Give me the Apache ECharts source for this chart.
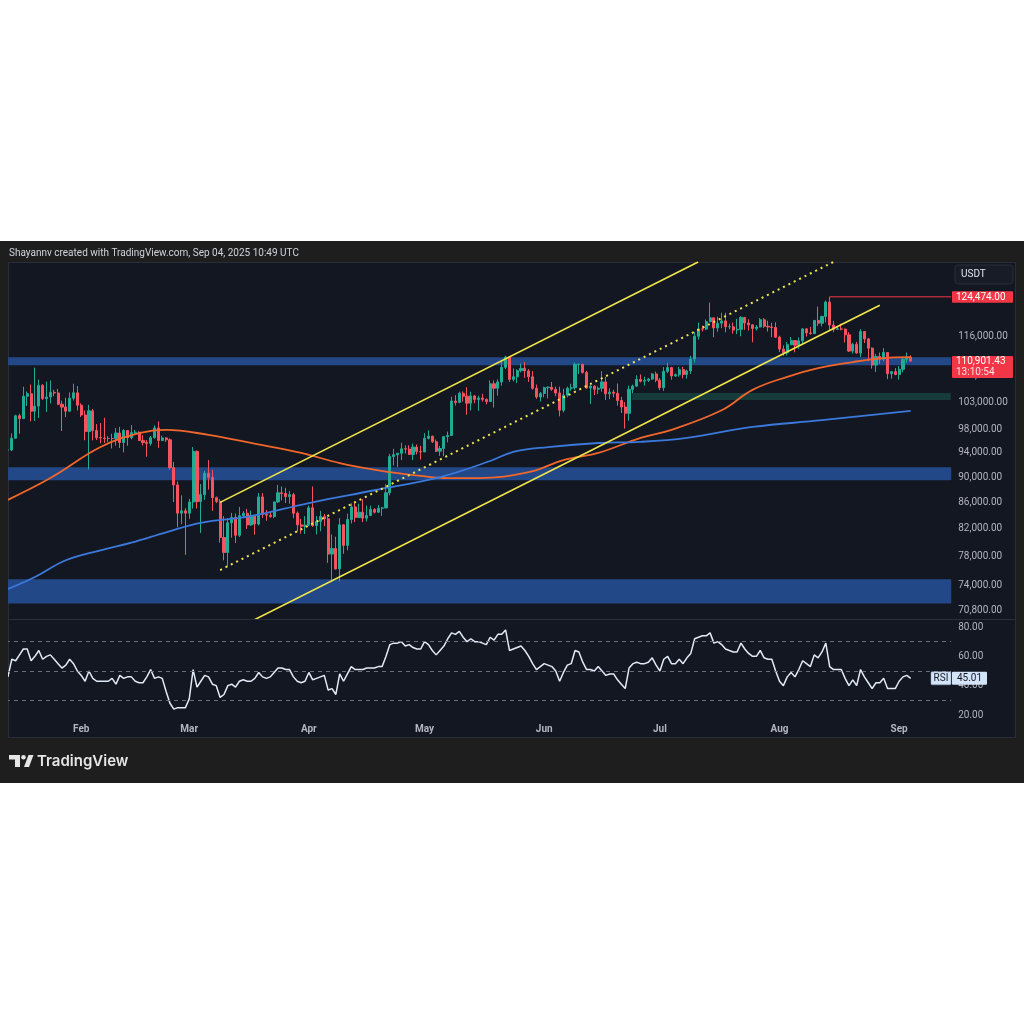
<!DOCTYPE html>
<html>
<head>
<meta charset="utf-8">
<title>BTC/USDT daily</title>
<script src="https://cdn.jsdelivr.net/npm/echarts@6/dist/echarts.min.js"></script>
<style>
  html, body { margin: 0; padding: 0; background: #fff; }
  #chart { width: 1024px; height: 1024px; }
</style>
</head>
<body>
<div id="chart"></div>
<script>
// Daily candles, in thousands of USDT: [open, close, low, high]
const candlesJan = [
  [94.50, 94.50, 89.25, 95.90], [94.50, 96.53, 94.30, 97.37], [96.53, 100.50, 96.45, 100.68],
  [100.50, 99.99, 97.30, 100.88], [99.99, 104.08, 99.95, 105.90], [104.08, 104.56, 102.30, 104.99],
  [104.56, 101.33, 99.50, 106.32], [101.33, 102.26, 99.55, 109.59], [102.26, 106.14, 100.10, 107.25],
  [106.14, 103.65, 103.40, 106.39], [103.65, 103.96, 101.20, 106.85], [103.96, 104.82, 102.75, 107.10],
  [104.82, 104.71, 104.10, 105.30], [104.71, 102.59, 102.47, 105.47], [102.59, 102.08, 97.78, 103.25],
  [102.08, 101.33, 100.27, 103.80], [101.33, 103.73, 101.28, 104.80], [103.73, 104.74, 103.30, 106.46],
  [104.74, 102.43, 101.46, 106.01]
];
const candlesFeb = [
  [102.43, 100.64, 100.28, 102.77], [100.64, 97.69, 96.16, 101.46], [97.69, 101.40, 91.23, 102.50],
  [101.40, 97.87, 96.15, 101.75], [97.87, 96.62, 96.20, 99.00], [96.62, 96.55, 95.65, 99.20],
  [96.55, 96.48, 95.70, 100.14], [96.48, 96.47, 95.90, 96.88], [96.47, 96.46, 94.75, 97.30],
  [96.46, 97.43, 95.25, 98.30], [97.43, 95.78, 94.85, 98.50], [95.78, 97.87, 94.10, 98.10],
  [97.87, 96.61, 95.23, 97.55], [96.61, 97.50, 96.32, 98.83], [97.50, 97.57, 97.20, 97.97],
  [97.57, 96.12, 96.05, 97.73], [96.12, 95.78, 95.26, 97.05], [95.78, 95.63, 93.35, 96.20],
  [95.63, 96.62, 95.25, 96.90], [96.62, 98.33, 96.45, 98.77], [98.33, 96.13, 94.87, 99.50],
  [96.13, 96.58, 96.02, 96.95], [96.58, 96.25, 95.87, 96.70], [96.25, 91.55, 91.22, 96.50],
  [91.55, 88.74, 86.05, 92.50], [88.74, 84.35, 82.25, 89.30], [84.35, 84.71, 82.70, 87.10],
  [84.71, 84.35, 78.26, 85.10]
];
const candlesMar = [
  [84.35, 86.06, 83.50, 86.56], [86.06, 94.27, 85.05, 95.00], [94.27, 86.12, 85.05, 94.40],
  [86.12, 87.22, 81.40, 88.90], [87.22, 90.62, 86.40, 91.00], [90.62, 89.96, 88.00, 92.80],
  [89.96, 86.74, 84.70, 91.20], [86.74, 86.15, 85.90, 86.90], [86.15, 80.73, 80.00, 86.50],
  [80.73, 78.60, 77.50, 83.90], [78.60, 82.90, 76.60, 83.60], [82.90, 83.70, 80.70, 84.40],
  [83.70, 81.06, 79.95, 84.30], [81.06, 83.97, 80.80, 85.30], [83.97, 84.34, 83.65, 84.67],
  [84.34, 82.58, 82.00, 85.00], [82.58, 84.01, 82.45, 84.75], [84.01, 82.72, 81.15, 84.00],
  [82.72, 86.85, 82.50, 87.45], [86.85, 84.17, 83.65, 87.45], [84.17, 84.04, 83.20, 84.85],
  [84.04, 83.83, 83.65, 84.50], [83.83, 86.08, 83.60, 86.10], [86.08, 87.50, 85.90, 88.75],
  [87.50, 87.38, 86.30, 88.50], [87.38, 86.90, 85.90, 88.30], [86.90, 87.20, 85.80, 87.80],
  [87.20, 84.35, 83.60, 87.50], [84.35, 82.60, 81.60, 84.60], [82.60, 82.39, 81.30, 83.50],
  [82.39, 82.55, 81.25, 83.90]
];
const candlesApr = [
  [82.55, 85.16, 82.40, 85.50], [85.16, 82.50, 82.30, 88.50], [82.50, 83.10, 81.20, 83.90],
  [83.10, 83.84, 81.65, 84.70], [83.84, 83.50, 82.40, 84.23], [83.50, 78.37, 77.15, 83.80],
  [78.37, 79.15, 74.50, 81.20], [79.15, 76.30, 76.20, 80.85], [76.30, 82.60, 74.60, 83.60],
  [82.60, 79.60, 78.40, 82.70], [79.60, 83.40, 78.90, 84.30], [83.40, 85.30, 82.80, 85.85],
  [85.30, 83.70, 83.00, 86.10], [83.70, 84.50, 83.60, 85.80], [84.50, 83.60, 83.00, 86.50],
  [83.60, 84.00, 83.10, 85.50], [84.00, 84.90, 83.90, 85.50], [84.90, 84.50, 84.30, 85.10],
  [84.50, 85.10, 84.40, 85.60], [85.10, 85.15, 83.95, 85.30], [85.15, 87.50, 85.10, 88.85],
  [87.50, 93.40, 87.10, 93.85], [93.40, 93.70, 91.90, 94.70], [93.70, 93.95, 91.65, 94.00],
  [93.95, 94.70, 92.80, 95.75], [94.70, 94.65, 93.90, 95.30], [94.65, 93.75, 93.65, 95.30],
  [93.75, 95.00, 92.80, 95.60], [95.00, 94.25, 93.75, 95.45], [94.25, 94.17, 92.90, 95.20]
];
const candlesMay = [
  [94.17, 96.50, 94.15, 97.40], [96.50, 96.88, 96.30, 97.90], [96.88, 95.90, 95.70, 96.95],
  [95.90, 94.30, 94.15, 96.30], [94.30, 94.75, 93.50, 95.20], [94.75, 96.80, 93.45, 96.90],
  [96.80, 97.00, 95.80, 97.70], [97.00, 103.20, 96.90, 104.00], [103.20, 102.95, 102.35, 104.30],
  [102.95, 104.65, 102.80, 104.95], [104.65, 104.10, 103.10, 105.00], [104.10, 102.80, 100.70, 105.80],
  [102.80, 104.15, 101.45, 104.95], [104.15, 103.50, 102.80, 104.35], [103.50, 103.75, 101.40, 104.20],
  [103.75, 103.50, 103.10, 104.55], [103.50, 103.10, 102.60, 103.70], [103.10, 106.45, 103.10, 107.10],
  [106.45, 105.60, 102.00, 107.10], [105.60, 106.80, 104.20, 107.30], [106.80, 109.65, 106.10, 110.80],
  [109.65, 111.70, 109.30, 111.95], [111.70, 107.30, 106.80, 111.80], [107.30, 107.80, 106.90, 109.45],
  [107.80, 109.00, 106.60, 109.30], [109.00, 109.45, 108.65, 110.40], [109.45, 108.95, 107.60, 110.70],
  [108.95, 107.80, 106.80, 109.30], [107.80, 105.60, 105.30, 108.90], [105.60, 103.95, 103.60, 106.30],
  [103.95, 104.60, 103.10, 104.90]
];
const candlesJun = [
  [104.60, 105.70, 103.90, 105.90], [105.70, 105.80, 103.70, 105.95], [105.80, 105.40, 105.10, 106.80],
  [105.40, 104.70, 104.10, 105.90], [104.70, 101.50, 100.40, 105.90], [101.50, 104.30, 101.10, 105.50],
  [104.30, 105.60, 103.90, 105.90], [105.60, 105.70, 105.10, 106.45], [105.70, 110.25, 105.30, 110.60],
  [110.25, 110.25, 108.35, 110.40], [110.25, 108.65, 108.40, 110.35], [108.65, 105.65, 105.45, 108.95],
  [105.65, 106.00, 102.65, 106.20], [106.00, 105.40, 104.30, 106.20], [105.40, 105.60, 104.50, 105.95],
  [105.60, 106.80, 104.95, 108.90], [106.80, 104.55, 103.40, 107.80], [104.55, 104.85, 103.55, 105.60],
  [104.85, 104.65, 103.90, 105.30], [104.65, 103.30, 102.35, 106.50], [103.30, 102.10, 101.00, 104.00],
  [102.10, 100.95, 98.20, 103.00], [100.95, 105.40, 99.60, 106.10], [105.40, 106.00, 104.65, 106.30],
  [106.00, 107.30, 105.85, 108.10], [107.30, 106.95, 106.70, 108.25], [106.95, 107.10, 106.10, 107.80],
  [107.10, 107.35, 106.80, 107.55], [107.35, 108.35, 107.20, 108.55], [108.35, 107.15, 106.75, 108.80]
];
const candlesJul = [
  [107.15, 105.70, 105.25, 107.55], [105.70, 108.85, 105.10, 109.70], [108.85, 109.60, 108.50, 110.55],
  [109.60, 107.95, 107.25, 109.75], [107.95, 108.20, 107.80, 108.45], [108.20, 109.20, 107.80, 109.75],
  [109.20, 108.25, 107.50, 109.75], [108.25, 108.95, 107.45, 109.20], [108.95, 111.30, 108.35, 111.95],
  [111.30, 115.95, 110.60, 116.85], [115.95, 117.50, 115.25, 118.85], [117.50, 117.45, 116.95, 118.20],
  [117.45, 119.05, 117.25, 119.50], [119.05, 119.85, 118.90, 123.20], [119.85, 117.70, 115.75, 119.95],
  [117.70, 118.70, 116.90, 120.10], [118.70, 119.20, 117.65, 120.95], [119.20, 117.95, 116.80, 120.95],
  [117.95, 117.95, 117.40, 118.60], [117.95, 117.25, 116.50, 118.85], [117.25, 117.40, 116.40, 119.65],
  [117.40, 119.95, 115.95, 120.20], [119.95, 118.75, 117.30, 120.05], [118.75, 118.35, 117.15, 119.55],
  [118.35, 117.60, 114.70, 118.45], [117.60, 117.90, 117.15, 118.30], [117.90, 119.45, 117.80, 119.80],
  [119.45, 118.05, 117.70, 119.80], [118.05, 117.90, 116.95, 119.25], [117.90, 117.80, 115.75, 118.80],
  [117.80, 115.75, 115.60, 118.90]
];
const candlesAug = [
  [115.75, 113.30, 112.70, 116.05], [113.30, 112.55, 111.95, 114.05], [112.55, 114.20, 112.00, 114.75],
  [114.20, 115.05, 114.15, 115.80], [115.05, 114.10, 112.65, 115.10], [114.10, 115.00, 113.35, 115.70],
  [115.00, 117.50, 114.25, 117.65], [117.50, 116.65, 115.90, 117.65], [116.65, 116.50, 116.30, 117.90],
  [116.50, 119.30, 116.45, 119.30], [119.30, 118.70, 118.10, 122.30], [118.70, 120.15, 118.05, 120.30],
  [120.15, 123.30, 118.90, 123.65], [123.30, 118.30, 117.20, 124.474], [118.30, 117.40, 116.80, 119.20],
  [117.40, 117.50, 117.25, 117.95], [117.50, 117.45, 117.20, 118.60], [117.45, 116.25, 114.65, 117.55],
  [116.25, 112.90, 112.70, 116.80], [112.90, 114.30, 112.40, 114.60], [114.30, 112.50, 112.40, 114.80],
  [112.50, 116.95, 111.70, 117.45], [116.95, 115.40, 114.55, 117.05], [115.40, 113.50, 110.85, 115.60],
  [113.50, 110.10, 109.40, 113.65], [110.10, 111.80, 108.75, 112.35], [111.80, 111.25, 110.35, 112.60],
  [111.25, 112.60, 110.85, 113.50], [112.60, 108.40, 107.35, 112.65], [108.40, 108.80, 107.45, 108.95],
  [108.80, 108.25, 108.10, 109.50]
];
const candlesSep = [
  [108.25, 109.25, 107.25, 109.90], [109.25, 111.25, 108.65, 111.80], [111.25, 111.70, 110.55, 112.60],
  [111.70, 110.90143, 110.70, 112.05]
];

// RSI(14), one value per day
const rsiJan = [46, 58, 57, 61, 65, 65, 57, 60, 64, 58, 60, 61, 58, 55, 52, 54, 58, 55, 50];
const rsiFeb = [47, 43, 50, 45, 43, 43, 43, 43, 45, 41, 47, 45, 46, 46, 43, 42, 42, 46, 51, 45, 46, 45, 36, 28, 24, 25, 25, 25];
const rsiMar = [31, 51, 39, 43, 47, 46, 41, 40, 32, 34, 40, 41, 39, 43, 44, 43, 43, 45, 49, 46, 45, 46, 49, 52, 52, 51, 51, 46, 43, 42, 43];
const rsiApr = [49, 44, 45, 46, 47, 37, 38, 34, 48, 43, 48, 53, 51, 51, 51, 52, 52, 52, 53, 53, 60, 68, 69, 69, 70, 67, 68, 66, 65, 65];
const rsiMay = [70, 68, 64, 61, 64, 67, 72, 76, 75, 77, 73, 70, 72, 70, 70, 69, 68, 73, 71, 75, 75, 78, 64, 65, 66, 67, 64, 60, 55, 51, 53];
const rsiJun = [55, 54, 53, 50, 43, 49, 54, 55, 64, 63, 56, 51, 51, 50, 53, 50, 47, 48, 48, 44, 41, 38, 52, 55, 56, 55, 55, 56, 59, 54];
const rsiJul = [50, 58, 60, 55, 55, 58, 55, 59, 62, 72, 73, 74, 74, 76, 69, 70, 68, 65, 64, 63, 63, 69, 65, 62, 60, 60, 64, 59, 58, 58, 50];
const rsiAug = [43, 40, 46, 49, 46, 51, 57, 55, 53, 61, 59, 63, 69, 53, 51, 51, 51, 45, 40, 44, 40, 51, 46, 42, 38, 42, 42, 45, 38, 38, 38];
const rsiSep = [43, 46, 47, 45.01];

// moving averages: [day index, thousands USDT]
const maOrange = [
  [0, 86.4], [11, 89.85], [24, 95.0], [34, 97.4], [41, 98.0], [52, 97.1], [63, 95.7], [76, 94.0],
  [86, 92.3], [96, 91.1], [107, 90.2], [114, 89.85], [122, 89.85], [135, 90.8], [144, 92.8],
  [153, 94.0], [164, 96.6], [172, 98.0], [185, 101.5], [193, 105.3], [202, 107.8], [210, 109.5],
  [219, 110.7], [227, 111.5], [234, 111.7]
];
const maBlue = [
  [0, 73.6], [7, 75.2], [15, 77.5], [24, 78.9], [32, 80.0], [41, 81.5], [50, 82.9], [63, 83.9],
  [78, 85.9], [95, 87.9], [112, 90.0], [125, 92.65], [131, 94.2], [140, 95.0], [153, 95.7],
  [164, 95.9], [176, 96.6], [193, 98.5], [211, 99.7], [234, 101.4]
];

// trend channel: [day index, thousands USDT] end points
const channelUpper = [[55, 86.0], [178.9, 132.5]];
const channelMid = [[55, 76.15], [213.9, 132.5]];
const channelLower = [[60, 68.7], [226, 122.6]];

// horizontal zones, thousands USDT [low, high]
const blueZones = [[110.08, 111.68], [89.48, 91.6], [71.7, 74.9]];
const greenZone = { from: 161.8, low: 103.4, high: 104.7 };

const priceTicks = [70800, 74000, 78000, 82000, 86000, 90000, 94000, 98000, 103000, 108000, 116000];
const rsiTicks = [20, 40, 60, 80];
const rsiLevels = [70, 50, 30];
const monthNames = ['Feb', 'Mar', 'Apr', 'May', 'Jun', 'Jul', 'Aug', 'Sep'];
const monthStarts = [19, 47, 78, 108, 139, 169, 200, 231];

const athPrice = 124474;
const athDay = 213;
const lastPrice = 110901.43;
const lastRsi = 45.01;

// one category per day, Jan 13 to Sep 14 (right margin of the chart)
const dayCount = 245;
const days = [];
for (let k = 0; k < dayCount; k++) {
  days.push(new Date(Date.UTC(2025, 0, 13) + k * 86400000).toISOString().slice(0, 10));
}

const toUsd = (rows) => rows.map(r => r.map(v => v * 1000));
const toUsdPts = (pts) => pts.map(p => [p[0], p[1] * 1000]);

const candles = toUsd([].concat(candlesJan, candlesFeb, candlesMar, candlesApr, candlesMay,
  candlesJun, candlesJul, candlesAug, candlesSep));
const rsi = [].concat(rsiJan, rsiFeb, rsiMar, rsiApr, rsiMay, rsiJun, rsiJul, rsiAug, rsiSep);

const fmtPrice = (v) => Math.round(v).toFixed(2).replace(/\B(?=(\d{3})+(?!\d))/g, ',');

const axisText = '#b2b5be';
const up = '#22ab94';
const down = '#f7525f';
const yellow = '#f2e64b';

const chart = echarts.init(document.getElementById('chart'));

const option = {
  backgroundColor: '#ffffff',
  animation: false,
  textStyle: { fontFamily: 'Roboto, "Noto Sans", sans-serif' },
  grid: [
    { left: 6, top: 262, width: 945.2, height: 357 },
    { left: 6, top: 619.67, width: 945.2, height: 102.67 }
  ],
  xAxis: [
    { type: 'category', gridIndex: 0, data: days, show: false },
    { type: 'value', gridIndex: 0, min: -0.5, max: 244.5, show: false },
    {
      type: 'category', gridIndex: 1, data: days,
      axisLine: { show: false }, axisTick: { show: false }, splitLine: { show: false },
      axisLabel: {
        interval: (i) => monthStarts.includes(i),
        formatter: (v, i) => monthNames[monthStarts.indexOf(i)],
        color: axisText, fontSize: 10, fontWeight: 'bold', margin: 2
      }
    },
    { type: 'value', gridIndex: 1, min: -0.5, max: 244.5, show: false }
  ],
  yAxis: [
    {
      type: 'log', logBase: 10, gridIndex: 0, position: 'right',
      min: 69730, max: 132520,
      axisLine: { show: false }, axisTick: { show: false }, splitLine: { show: false },
      axisLabel: { customValues: priceTicks, formatter: fmtPrice, color: axisText, fontSize: 10, margin: 7 }
    },
    {
      type: 'value', gridIndex: 1, position: 'right', min: 15, max: 85,
      axisLine: { show: false }, axisTick: { show: false }, splitLine: { show: false },
      axisLabel: { customValues: rsiTicks, formatter: (v) => v.toFixed(2), color: axisText, fontSize: 10, margin: 7 }
    }
  ],
  series: [
    {
      name: 'zones', type: 'line', xAxisIndex: 1, yAxisIndex: 0, data: [],
      markArea: {
        silent: true,
        itemStyle: { color: '#234887' },
        data: blueZones.map(z => [{ yAxis: z[0] * 1000 }, { yAxis: z[1] * 1000 }]).concat([[
          { coord: [greenZone.from, greenZone.high * 1000], itemStyle: { color: '#173a3b' } },
          { coord: [244.4, greenZone.low * 1000] }
        ]])
      }
    },
    {
      name: 'ATH', type: 'line', xAxisIndex: 1, yAxisIndex: 0,
      data: [[athDay, athPrice], [244.5, athPrice]],
      symbol: 'none', lineStyle: { color: '#f23645', width: 1 }
    },
    {
      name: 'BTCUSDT', type: 'candlestick', xAxisIndex: 0, yAxisIndex: 0,
      data: candles, barWidth: '68%',
      itemStyle: { color: up, color0: down, borderColor: up, borderColor0: down, borderWidth: 1 }
    },
    {
      name: 'MA 100', type: 'line', xAxisIndex: 1, yAxisIndex: 0, data: toUsdPts(maOrange),
      smooth: 0.4, symbol: 'none', lineStyle: { color: '#f1672b', width: 1.8 }
    },
    {
      name: 'MA 200', type: 'line', xAxisIndex: 1, yAxisIndex: 0, data: toUsdPts(maBlue),
      smooth: 0.4, symbol: 'none', lineStyle: { color: '#3b79dc', width: 1.8 }
    },
    {
      name: 'channel upper', type: 'line', xAxisIndex: 1, yAxisIndex: 0, data: toUsdPts(channelUpper),
      symbol: 'none', lineStyle: { color: yellow, width: 1.6 }
    },
    {
      name: 'channel lower', type: 'line', xAxisIndex: 1, yAxisIndex: 0, data: toUsdPts(channelLower),
      symbol: 'none', lineStyle: { color: yellow, width: 1.6 }
    },
    {
      name: 'channel mid', type: 'line', xAxisIndex: 1, yAxisIndex: 0, data: toUsdPts(channelMid),
      symbol: 'none', lineStyle: { color: yellow, width: 2, type: [2, 4] }
    },
    {
      name: 'RSI', type: 'line', xAxisIndex: 2, yAxisIndex: 1, data: rsi,
      symbol: 'none', lineStyle: { color: '#e2eaf7', width: 1.5 },
      markLine: {
        silent: true, symbol: 'none', label: { show: false },
        lineStyle: { color: '#6b6f7c', width: 1, type: [4, 4] },
        data: rsiLevels.map(v => ({ yAxis: v }))
      }
    }
  ]
};

chart.setOption(option);

// decorations: TradingView frame, price tags and watermark
const yAth = chart.convertToPixel({ yAxisIndex: 0 }, athPrice);
const yLast = chart.convertToPixel({ yAxisIndex: 0 }, lastPrice);
const yRsi = chart.convertToPixel({ yAxisIndex: 1 }, lastRsi);

const txt = (x, y, text, fill, font, align) => ({
  type: 'text', z: 60, x: x, y: y,
  style: { text: text, fill: fill, font: font, align: align || 'left', verticalAlign: 'middle',
           textAlign: align || 'left', textVerticalAlign: 'middle' }
});

chart.setOption({
  graphic: [
    { type: 'rect', z: -10, shape: { x: 0, y: 241, width: 1024, height: 542 }, style: { fill: '#1e1e1e' } },
    { type: 'rect', z: -9, shape: { x: 8.5, y: 262.5, width: 1007, height: 475 }, style: { fill: '#131722', stroke: '#2a2e39', lineWidth: 1 } },
    { type: 'rect', z: 50, shape: { x: 0, y: 262, width: 8, height: 476 }, style: { fill: '#1e1e1e' } },
    { type: 'line', z: 50, shape: { x1: 8, y1: 619.5, x2: 1016, y2: 619.5 }, style: { stroke: '#2a2e39', lineWidth: 1 } },
    txt(9, 253, 'Shayannv created with TradingView.com, Sep 04, 2025 10:49 UTC', '#d1d4dc', '10px Roboto'),

    { type: 'rect', z: 55, shape: { x: 955, y: 265, width: 58, height: 19, r: 3 }, style: { fill: '#181c27', stroke: '#2a2e39', lineWidth: 1 } },
    txt(961, 274.5, 'USDT', '#e0e3eb', '10px Roboto'),

    { type: 'rect', z: 55, shape: { x: 952, y: yAth - 5.5, width: 61, height: 11.5, r: 1 }, style: { fill: '#f23645' } },
    txt(956, yAth + 0.5, '124,474.00', '#ffffff', '10px Roboto'),

    { type: 'rect', z: 55, shape: { x: 952, y: yLast - 5, width: 61, height: 22, r: 1 }, style: { fill: '#f23645' } },
    txt(956, yLast + 0.5, fmtPrice(lastPrice).slice(0, -3) + '.43', '#ffffff', '10px Roboto'),
    txt(956, yLast + 11, '13:10:54', 'rgba(255,255,255,0.85)', '10px Roboto'),

    { type: 'rect', z: 55, shape: { x: 931, y: yRsi - 6.5, width: 20, height: 13, r: 1 }, style: { fill: '#d3e3f8', stroke: '#8fa3c4', lineWidth: 0.5 } },
    txt(941, yRsi + 0.5, 'RSI', '#131722', '10px Roboto', 'center'),
    { type: 'rect', z: 55, shape: { x: 952, y: yRsi - 6.5, width: 35, height: 13, r: 1 }, style: { fill: '#d3e3f8' } },
    txt(969.5, yRsi + 0.5, lastRsi.toFixed(2), '#131722', '10px Roboto', 'center'),

    { type: 'polygon', z: 60, shape: { points: [[9, 755], [20, 755], [20, 767], [15, 767], [15, 759.5], [9, 759.5]] }, style: { fill: '#e6e6e6' } },
    { type: 'circle', z: 60, shape: { cx: 23.5, cy: 757.3, r: 2.3 }, style: { fill: '#e6e6e6' } },
    { type: 'polygon', z: 60, shape: { points: [[28.5, 755], [33.5, 755], [29, 767], [24, 767]] }, style: { fill: '#e6e6e6' } },
    txt(37, 761, 'TradingView', '#e6e6e6', '600 15px Inter')
  ]
});
</script>
</body>
</html>
